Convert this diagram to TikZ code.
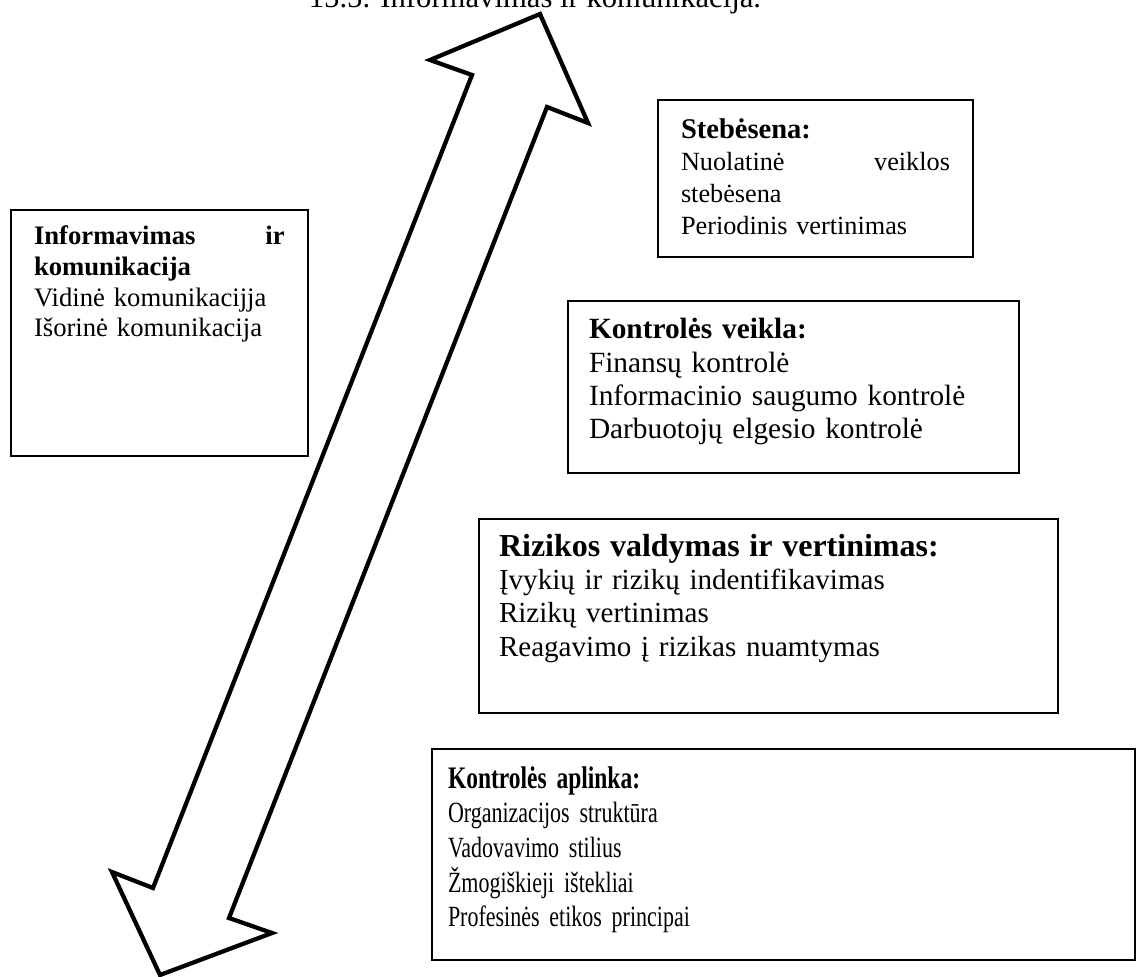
\documentclass[tikz,border=0pt]{standalone}
\usepackage{fontspec}
\setmainfont{Liberation Serif}
\newfontfamily\narrowserif{Liberation Serif}[FakeStretch=0.75, WordSpace=0.8]
\usetikzlibrary{positioning}

\begin{document}
\begin{tikzpicture}[
  x=0.75pt, y=-0.75pt,
  panel/.style={draw, line width=1.5pt, anchor=north west, align=left,
                inner xsep=17.25pt, inner ysep=0pt},
  hollow/.style={draw, line width=3.2pt, line join=miter, fill=white},
]
  \useasboundingbox (0,0) rectangle (1136,977);
  \clip (0,0) rectangle (1136,977);

  % caption, cut by the top edge of the page
  \node[anchor=base, inner sep=0pt, font=\fontsize{23pt}{27pt}\selectfont] (title) at (535,7.5)
    {15.5. Informavimas ir komunikacija.};

  % two-headed hollow arrow
  \draw[hollow] (540,14) -- (588,123) -- (547,107) -- (229,918) -- (272,933)
    -- (160,975) -- (112,872) -- (153,888) -- (472,75) -- (430,60) -- cycle;

  \node[panel, text width=188pt, text height=26.25pt, text depth=158.25pt,
        font=\fontsize{20pt}{23pt}\selectfont] (info) at (10,209)
    {\textbf{Informavimas\hfill ir}\\
     \textbf{komunikacija}\\
     Vidinė komunikacijja\\
     Išorinė komunikacija};

  \node[panel, text width=201.75pt, text height=29.25pt, text depth=88.5pt,
        font=\fontsize{19.7pt}{24pt}\selectfont] (monitor) at (657,99)
    {{\fontsize{21.4pt}{24pt}\selectfont\bfseries Stebėsena:}\\
     Nuolatinė\hfill veiklos\\
     stebėsena\\
     Periodinis vertinimas};

  \node[panel, inner xsep=15.75pt, text width=306.75pt, text height=28.5pt, text depth=100.5pt,
        font=\fontsize{22pt}{25pt}\selectfont] (activity) at (567,300)
    {\textbf{Kontrolės veikla:}\\
     Finansų kontrolė\\
     Informacinio saugumo kontrolė\\
     Darbuotojų elgesio kontrolė};

  \node[panel, inner xsep=15pt, text width=404.25pt, text height=27.75pt, text depth=117.75pt,
        font=\fontsize{21.8pt}{25pt}\selectfont] (risk) at (478,518)
    {{\fontsize{24pt}{25pt}\selectfont\bfseries Rizikos valdymas ir vertinimas:}\\
     Įvykių ir rizikų indentifikavimas\\
     Rizikų vertinimas\\
     Reagavimo į rizikas nuamtymas};

  \node[panel, inner xsep=12pt, text width=503.25pt, text height=29.25pt, text depth=129pt,
        font=\narrowserif\fontsize{22pt}{26pt}\selectfont] (environment) at (431,748)
    {{\fontsize{23.5pt}{26pt}\selectfont\bfseries Kontrolės aplinka:}\\
     Organizacijos struktūra\\
     Vadovavimo stilius\\
     Žmogiškieji ištekliai\\
     Profesinės etikos principai};
\end{tikzpicture}
\end{document}
